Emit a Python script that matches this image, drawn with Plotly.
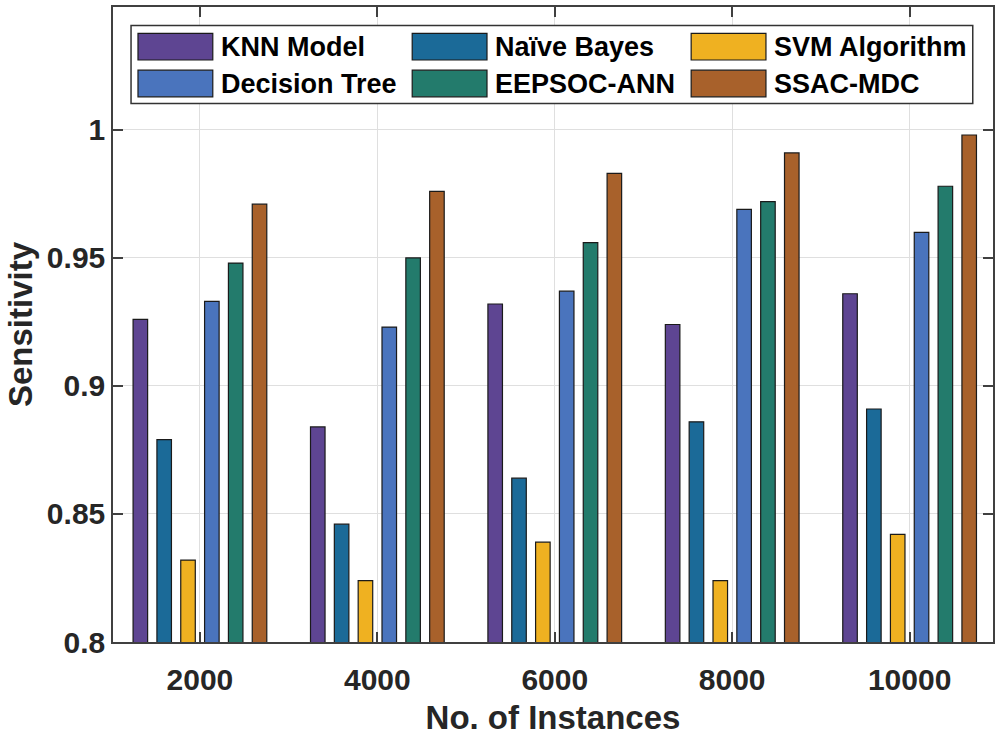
import plotly.graph_objects as go

categories = ["2000", "4000", "6000", "8000", "10000"]
series_names = ["KNN Model", "Naïve Bayes", "SVM Algorithm", "Decision Tree", "EEPSOC-ANN", "SSAC-MDC"]
knn = [0.926, 0.884, 0.932, 0.924, 0.936]
naive_bayes = [0.879, 0.846, 0.864, 0.886, 0.891]
svm = [0.832, 0.824, 0.839, 0.824, 0.842]
decision_tree = [0.933, 0.923, 0.937, 0.969, 0.960]
eepsoc_ann = [0.948, 0.950, 0.956, 0.972, 0.978]
ssac_mdc = [0.971, 0.976, 0.983, 0.991, 0.998]
y_ticks = [0.8, 0.85, 0.9, 0.95, 1.0]
y_tick_labels = ["0.8", "0.85", "0.9", "0.95", "1"]

colors = ["#5e4592", "#1b6a98", "#efb121", "#4a74bd", "#237b6c", "#a8612b"]
values = [knn, naive_bayes, svm, decision_tree, eepsoc_ann, ssac_mdc]

FONT = "Liberation Sans, Arial, sans-serif"
TXT = "#262626"

fig = go.Figure()
xpos = list(range(1, len(categories) + 1))
for name, vals, col in zip(series_names, values, colors):
    fig.add_trace(go.Bar(
        x=xpos, y=vals, name=name,
        marker=dict(color=col, line=dict(color="#1a1a1a", width=1.2)),
    ))

# custom legend (large swatches like the original)
leg_x0 = [0.0284, 0.340, 0.657]
leg_rows = [0.9375, 0.8795]
sw_w = 0.085
sw_h = 0.042
shapes = [dict(type="rect", xref="paper", yref="paper", x0=0.0205, x1=0.977,
               y0=0.848, y1=0.971, line=dict(color="#333333", width=1.5), fillcolor="white", layer="above")]
annotations = []
for i, (name, col) in enumerate(zip(series_names, colors)):
    r, c = divmod(i, 3)
    x0 = leg_x0[c]
    yc = leg_rows[r]
    shapes.append(dict(type="rect", xref="paper", yref="paper", x0=x0, x1=x0 + sw_w,
                       y0=yc - sw_h / 2, y1=yc + sw_h / 2, fillcolor=col,
                       line=dict(color="#1a1a1a", width=1.2), layer="above"))
    annotations.append(dict(xref="paper", yref="paper", x=x0 + sw_w + 0.007, y=yc,
                            xanchor="left", yanchor="middle", text="<b>%s</b>" % name,
                            showarrow=False, font=dict(family=FONT, size=27, color="black")))

fig.update_layout(
    width=1000, height=736,
    margin=dict(l=113, r=7, t=5, b=93),
    paper_bgcolor="white", plot_bgcolor="white",
    barmode="group", bargap=0.194, bargroupgap=0.39,
    showlegend=False,
    shapes=shapes, annotations=annotations,
    font=dict(family=FONT, color=TXT),
)
fig.update_xaxes(
    range=[0.51, 5.47], tickmode="array", tickvals=xpos,
    ticktext=["<b>%s</b>" % c for c in categories],
    tickfont=dict(size=30, color=TXT, family=FONT),
    ticklabelstandoff=10,
    title=dict(text="<b>No. of Instances</b>", font=dict(size=33, color=TXT, family=FONT), standoff=12),
    showgrid=True, gridcolor="#dfdfdf", gridwidth=1,
    showline=True, linecolor="#404040", linewidth=1.5, mirror="ticks",
    ticks="inside", ticklen=10, tickcolor="#404040", tickwidth=1.5,
    zeroline=False,
)
fig.update_yaxes(
    range=[0.8, 1.048], tickmode="array", tickvals=y_ticks,
    ticktext=["<b>%s</b>" % t for t in y_tick_labels],
    tickfont=dict(size=30, color=TXT, family=FONT),
    title=dict(text="<b>Sensitivity</b>", font=dict(size=33, color=TXT, family=FONT), standoff=4),
    showgrid=True, gridcolor="#dfdfdf", gridwidth=1,
    showline=True, linecolor="#404040", linewidth=1.5, mirror="ticks",
    ticks="inside", ticklen=10, tickcolor="#404040", tickwidth=1.5,
    zeroline=False,
)

fig.write_html("out.html", config={"displayModeBar": False},
               post_script="document.body.style.margin='0';document.body.style.padding='0';")
